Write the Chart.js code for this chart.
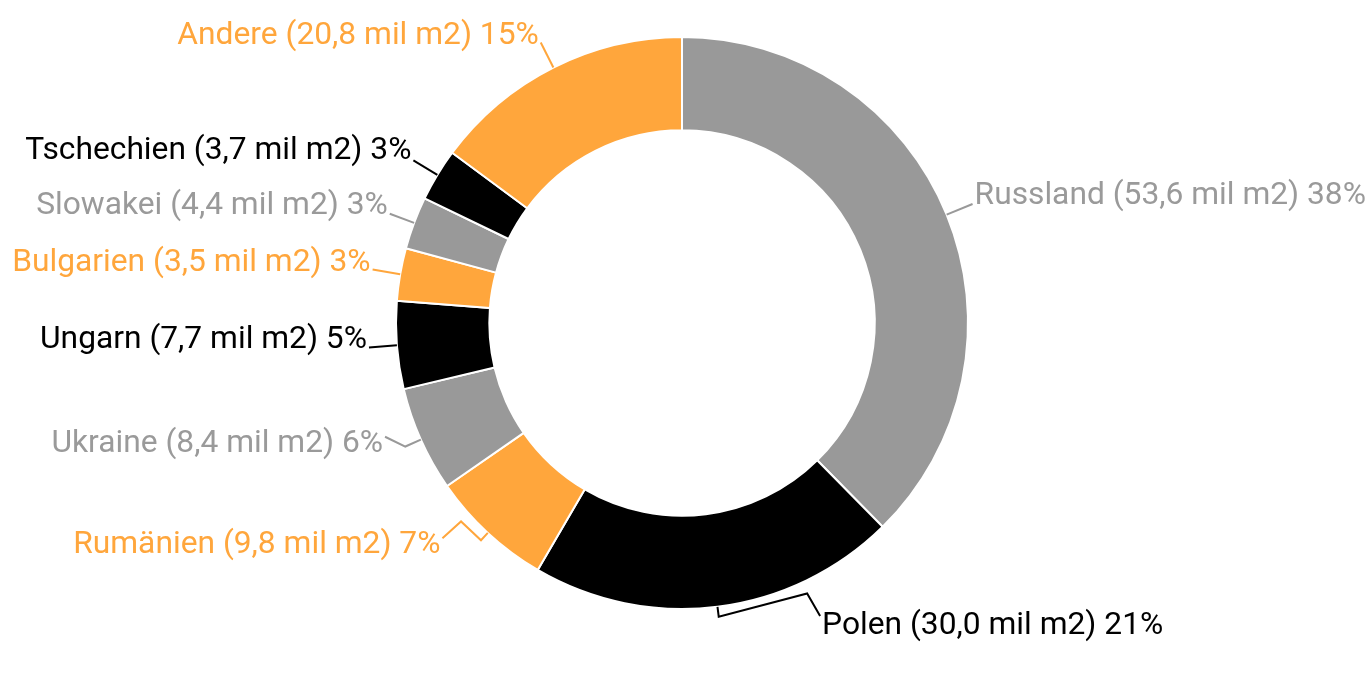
<!DOCTYPE html>
<html>
<head>
<meta charset="utf-8">
<script src="https://cdn.jsdelivr.net/npm/chart.js@4/dist/chart.umd.min.js"></script>
<style>
  html, body { margin: 0; padding: 0; background: #ffffff; }
  #wrap { width: 1372px; height: 678px; position: relative; }
</style>
</head>
<body>
<div id="wrap"><canvas id="c" width="1372" height="678"></canvas></div>
<script>
// ---- data ----
const categories = ['Russland', 'Polen', 'Rumänien', 'Ukraine', 'Ungarn', 'Bulgarien', 'Slowakei', 'Tschechien', 'Andere'];
const areaMillionM2 = [53.6, 30.0, 9.8, 8.4, 7.7, 3.5, 4.4, 3.7, 20.8];
const sharePercent = [38, 21, 7, 6, 5, 3, 3, 3, 15];

// ---- styles ----
const GRAY = '#999999', BLACK = '#000000', ORANGE = '#FFA63C';
const sliceColors = [GRAY, BLACK, ORANGE, GRAY, BLACK, ORANGE, GRAY, BLACK, ORANGE];
const textColors = ['#9a9a9a', BLACK, ORANGE, '#9a9a9a', BLACK, ORANGE, '#9a9a9a', BLACK, ORANGE];

// leader line layout: [angle offset in degrees from slice middle, radius offset in px from outer edge]
const leaderLayout = [
  [[0, 0], [0, 28]],
  [[0, 0], [0, 10], [-17.7, 12], [-18.1, 38]],
  [[0, 0], [0, 10], [5.3, 11], [5.3, 36]],
  [[0, 0], [0, 17], [3.1, 32]],
  [[0, 0], [0, 28]],
  [[0, 0], [0, 28]],
  [[0, 0], [0, 26]],
  [[0, 0], [0, 28]],
  [[0, 0], [0, 28]]
];
// text baseline offset from the leader end
const baselineOffset = [0, 18, 15, 15, 1, 1, 0, -1, 1];

function fmt(v) {
  return v.toLocaleString('de-DE', { minimumFractionDigits: 1, maximumFractionDigits: 1 });
}
const labelTexts = categories.map((c, i) => `${c} (${fmt(areaMillionM2[i])} mil m2) ${sharePercent[i]}%`);

const labelPlugin = {
  id: 'outsideLabels',
  afterDatasetsDraw(chart) {
    const ctx = chart.ctx;
    const meta = chart.getDatasetMeta(0);
    ctx.save();
    ctx.font = '31.75px Roboto, "Noto Sans", sans-serif';
    ctx.lineWidth = 2;
    ctx.lineJoin = 'miter';
    meta.data.forEach((arc, i) => {
      const mid = (arc.startAngle + arc.endAngle) / 2;
      const R = arc.outerRadius;
      const pts = leaderLayout[i].map(([da, dr]) => {
        const a = mid + da * Math.PI / 180;
        const r = R + dr;
        return [arc.x + r * Math.cos(a), arc.y + r * Math.sin(a)];
      });
      ctx.strokeStyle = sliceColors[i];
      ctx.beginPath();
      pts.forEach((p, k) => (k === 0 ? ctx.moveTo(p[0], p[1]) : ctx.lineTo(p[0], p[1])));
      ctx.stroke();
      const end = pts[pts.length - 1];
      const rightSide = end[0] >= arc.x;
      ctx.fillStyle = textColors[i];
      ctx.textBaseline = 'alphabetic';
      ctx.textAlign = rightSide ? 'left' : 'right';
      const tx = rightSide ? end[0] + 2 : end[0] - 2;
      ctx.fillText(labelTexts[i], tx, end[1] + baselineOffset[i]);
    });
    ctx.restore();
  }
};

const bgPlugin = {
  id: 'bg',
  beforeDraw(chart) {
    const ctx = chart.ctx;
    ctx.save();
    ctx.fillStyle = '#ffffff';
    ctx.fillRect(0, 0, chart.width, chart.height);
    ctx.restore();
  }
};

new Chart(document.getElementById('c'), {
  type: 'doughnut',
  data: {
    labels: categories,
    datasets: [{
      data: sharePercent,
      backgroundColor: sliceColors,
      borderColor: '#ffffff',
      borderWidth: 2
    }]
  },
  options: {
    responsive: false,
    animation: false,
    radius: 286,
    cutout: 192,
    layout: { padding: { top: 37, bottom: 69, left: 396, right: 404 } },
    plugins: {
      legend: { display: false },
      tooltip: { enabled: false }
    }
  },
  plugins: [bgPlugin, labelPlugin]
});
</script>
</body>
</html>
